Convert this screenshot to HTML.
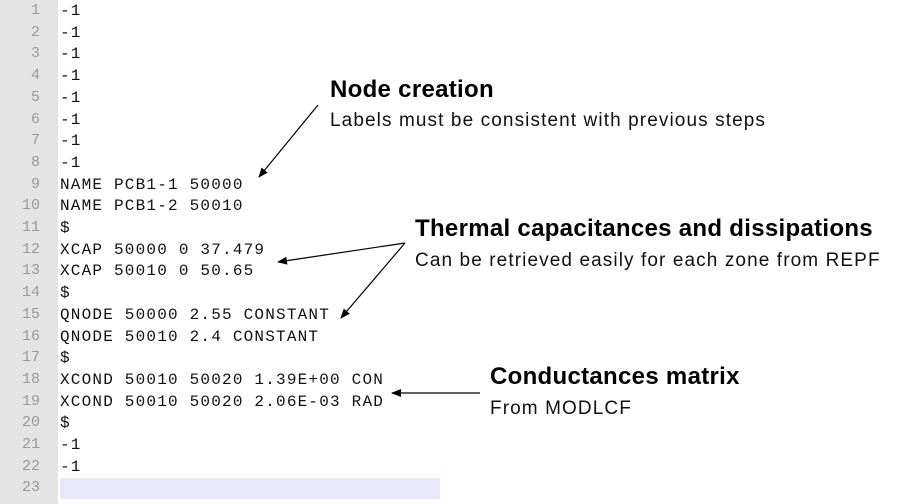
<!DOCTYPE html>
<html><head><style>
body{margin:0;width:898px;height:504px;background:#fff;position:relative;overflow:hidden;font-family:"Liberation Sans",sans-serif}
.g{position:absolute;left:0;top:0;width:58px;height:504px;background:#e4e4e4}
.hl{position:absolute;left:60px;top:478px;width:380px;height:21px;background:#e8e8f8}
.ln{position:absolute;left:0;width:40px;text-align:right;font:15px "Liberation Mono",monospace;color:#999}
.tx{position:absolute;left:60px;font:16px "Liberation Mono",monospace;letter-spacing:1.2px;color:#111;white-space:pre}
.h{position:absolute;font-weight:bold;font-size:24px;letter-spacing:0.3px;color:#000;white-space:nowrap}
.s{position:absolute;font-size:19px;letter-spacing:1.1px;color:#111;white-space:nowrap}
</style></head><body>
<div class="g"></div><div class="hl"></div>
<div id="c"></div>
<script>
var L=["-1","-1","-1","-1","-1","-1","-1","-1","NAME PCB1-1 50000","NAME PCB1-2 50010","$","XCAP 50000 0 37.479","XCAP 50010 0 50.65","$","QNODE 50000 2.55 CONSTANT","QNODE 50010 2.4 CONSTANT","$","XCOND 50010 50020 1.39E+00 CON","XCOND 50010 50020 2.06E-03 RAD","$","-1","-1",""];
var h="";for(var i=0;i<23;i++){var y=2+i*21.7;h+='<div class="ln" style="top:'+y+'px">'+(i+1)+'</div><div class="tx" style="top:'+y+'px">'+L[i]+'</div>';}
document.getElementById("c").innerHTML=h;
</script>
<div class="h" style="left:330px;top:76px">Node creation</div>
<div class="s" style="left:330px;top:110px">Labels must be consistent with previous steps</div>
<div class="h" style="left:415px;top:215px">Thermal capacitances and dissipations</div>
<div class="s" style="left:415px;top:250px">Can be retrieved easily for each zone from REPF</div>
<div class="h" style="left:490px;top:363px">Conductances matrix</div>
<div class="s" style="left:490px;top:398px">From MODLCF</div>
<svg width="898" height="504" style="position:absolute;left:0;top:0">
<defs><marker id="a" markerWidth="10" markerHeight="8" refX="9" refY="4" orient="auto" markerUnits="userSpaceOnUse"><path d="M0,0L10,4L0,8z" fill="#000"/></marker></defs>
<g stroke="#000" stroke-width="1.2" fill="none">
<line x1="318" y1="105" x2="259" y2="177" marker-end="url(#a)"/>
<line x1="405" y1="243" x2="278" y2="262" marker-end="url(#a)"/>
<line x1="405" y1="243" x2="341" y2="318" marker-end="url(#a)"/>
<line x1="480" y1="393" x2="392" y2="393" marker-end="url(#a)"/>
</g></svg>
</body></html>
